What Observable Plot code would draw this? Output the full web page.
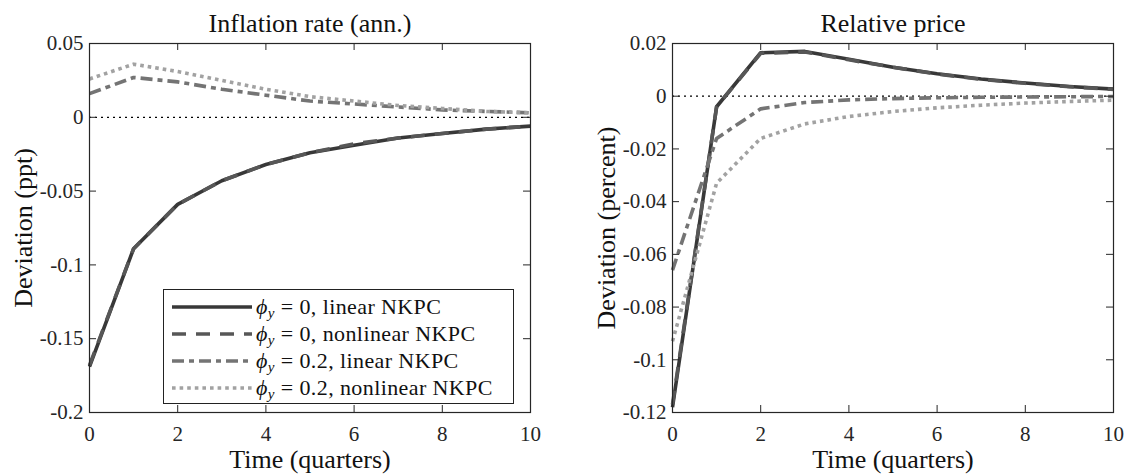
<!DOCTYPE html>
<html><head><meta charset="utf-8">
<script src="https://cdn.jsdelivr.net/npm/d3@7"></script>
<script src="https://cdn.jsdelivr.net/npm/@observablehq/plot@0.6"></script>
<style>
body{margin:0;background:#fff;}
#wrap{position:relative;width:1125px;height:476px;font-family:"Liberation Serif","Times New Roman",serif;}
.panel{position:absolute;top:0;}
.panel text{font-family:"Liberation Serif","Times New Roman",serif;}
#legend{position:absolute;left:163px;top:289px;width:351px;height:115px;border:1.2px solid #222;background:#fff;box-sizing:border-box;}
#legend .row{position:absolute;left:0;height:27px;line-height:27px;font-size:22px;letter-spacing:0.4px;color:#111;white-space:nowrap;}
#legend svg{position:absolute;left:8px;top:0;}
#legend .lab{position:absolute;left:92px;top:0;}
sub{font-size:15px;vertical-align:-4px;line-height:0;}
</style></head><body><div id="wrap"></div>
<script>
// ---- data ----
const quarters = [0, 1, 2, 3, 4, 5, 6, 7, 8, 9, 10];
const xTicks = [0, 2, 4, 6, 8, 10];

// Inflation rate (ann.), deviation in ppt
const inflLinear0    = [-0.169, -0.089, -0.059, -0.043, -0.032, -0.024, -0.019, -0.014, -0.011, -0.008, -0.006];
const inflNonlinear0 = [-0.168, -0.089, -0.059, -0.043, -0.032, -0.024, -0.018, -0.014, -0.011, -0.008, -0.006];
const inflLinear2    = [0.016, 0.027, 0.024, 0.019, 0.015, 0.011, 0.009, 0.007, 0.005, 0.004, 0.003];
const inflNonlinear2 = [0.026, 0.036, 0.031, 0.025, 0.019, 0.014, 0.011, 0.008, 0.006, 0.004, 0.003];
const inflYTicks = [-0.2, -0.15, -0.1, -0.05, 0, 0.05];

// Relative price, deviation in percent
const relLinear0    = [-0.118, -0.004, 0.0165, 0.017, 0.014, 0.011, 0.0085, 0.0065, 0.005, 0.0037, 0.0027];
const relNonlinear0 = [-0.117, -0.004, 0.0163, 0.0168, 0.0138, 0.011, 0.0084, 0.0064, 0.0049, 0.0036, 0.0026];
const relLinear2    = [-0.066, -0.016, -0.0048, -0.0024, -0.0014, -0.0009, -0.0006, -0.0004, -0.0003, -0.0002, -0.0001];
const relNonlinear2 = [-0.093, -0.033, -0.016, -0.0105, -0.0077, -0.0058, -0.0044, -0.0034, -0.0026, -0.002, -0.0015];
const relYTicks = [-0.12, -0.1, -0.08, -0.06, -0.04, -0.02, 0, 0.02];

const legendPhi  = ["0", "0", "0.2", "0.2"];
const legendKind = ["linear NKPC", "nonlinear NKPC", "linear NKPC", "nonlinear NKPC"];

// ---- styles ----
const styles = [
  {stroke: "#383838", strokeWidth: 3.6, dash: null},
  {stroke: "#575757", strokeWidth: 3.6, dash: "14,10"},
  {stroke: "#747474", strokeWidth: 3.6, dash: "12,5,5,5"},
  {stroke: "#a2a2a2", strokeWidth: 3.6, dash: "3.6,4"}
];

function rows(arrs) {
  const out = [];
  arrs.forEach((arr, s) => arr.forEach((v, i) => out.push({t: quarters[i], v, s})));
  return out;
}

const H = 476, MT = 43, MB = 64;
function panel({data, yDomain, yTicks, title, ylabel, width, marginLeft, marginRight}) {
  const fh = H - MT - MB;
  const fw = width - marginLeft - marginRight;
  const ink = "#262626";
  return Plot.plot({
    width, height: H, marginLeft, marginRight, marginTop: MT, marginBottom: MB,
    style: {fontFamily: '"Liberation Serif","Times New Roman",serif', fontSize: "21px", color: ink, background: "transparent", overflow: "visible"},
    x: {domain: [0, 10], label: null},
    y: {domain: yDomain, label: null},
    marks: [
      Plot.ruleY([0], {stroke: "#000", strokeWidth: 1.3, strokeDasharray: "2,4"}),
      ...styles.map((st, s) => Plot.line(data.filter(d => d.s === s), {
        x: "t", y: "v", stroke: st.stroke, strokeWidth: st.strokeWidth,
        strokeDasharray: st.dash, strokeLinejoin: "round", strokeLinecap: "butt"
      })),
      Plot.frame({stroke: ink, strokeWidth: 1.2}),
      Plot.tickX(xTicks, {x: d => d, insetTop: fh - 7, stroke: ink}),
      Plot.tickX(xTicks, {x: d => d, insetBottom: fh - 7, stroke: ink}),
      Plot.tickY(yTicks, {y: d => d, insetRight: fw - 7, stroke: ink}),
      Plot.tickY(yTicks, {y: d => d, insetLeft: fw - 7, stroke: ink}),
      Plot.axisX(xTicks, {tickSize: 0, tickPadding: 14, tickFormat: d => String(d), fontSize: 21}),
      Plot.axisY(yTicks, {tickSize: 0, tickPadding: 6, tickFormat: d => d === 0 ? "0" : String(d), fontSize: 21}),
      Plot.text([title], {frameAnchor: "top", dy: -20, lineAnchor: "middle", textAnchor: "middle", fontSize: 26, fill: "#111"}),
      Plot.text([ylabel], {frameAnchor: "left", rotate: -90, dx: -66, lineAnchor: "middle", textAnchor: "middle", fontSize: 26, fill: "#111"}),
      Plot.text(["Time (quarters)"], {frameAnchor: "bottom", dy: 47, lineAnchor: "middle", textAnchor: "middle", fontSize: 26, fill: "#111"})
    ]
  });
}

const wrap = document.getElementById("wrap");
const left = panel({
  data: rows([inflLinear0, inflNonlinear0, inflLinear2, inflNonlinear2]),
  yDomain: [-0.2, 0.05], yTicks: inflYTicks,
  title: "Inflation rate (ann.)", ylabel: "Deviation (ppt)",
  width: 562, marginLeft: 89, marginRight: 32
});
left.classList.add("panel"); left.style.left = "0px";
wrap.appendChild(left);

const right = panel({
  data: rows([relLinear0, relNonlinear0, relLinear2, relNonlinear2]),
  yDomain: [-0.12, 0.02], yTicks: relYTicks,
  title: "Relative price", ylabel: "Deviation (percent)",
  width: 563, marginLeft: 110, marginRight: 12
});
right.classList.add("panel"); right.style.left = "562px";
wrap.appendChild(right);

// legend
const leg = document.createElement("div");
leg.id = "legend";
const rowTops = [3, 30, 57, 84];
styles.forEach((st, i) => {
  const r = document.createElement("div");
  r.className = "row";
  r.style.top = rowTops[i] + "px";
  r.innerHTML = `<svg width="82" height="27"><line x1="0" y1="14" x2="80" y2="14" stroke="${st.stroke}" stroke-width="${st.strokeWidth}" ${st.dash ? `stroke-dasharray="${st.dash}"` : ""}/></svg>` +
    `<span class="lab"><i>ϕ</i><sub><i>y</i></sub> = ${legendPhi[i]}, ${legendKind[i]}</span>`;
  leg.appendChild(r);
});
wrap.appendChild(leg);
</script>
</body></html>
